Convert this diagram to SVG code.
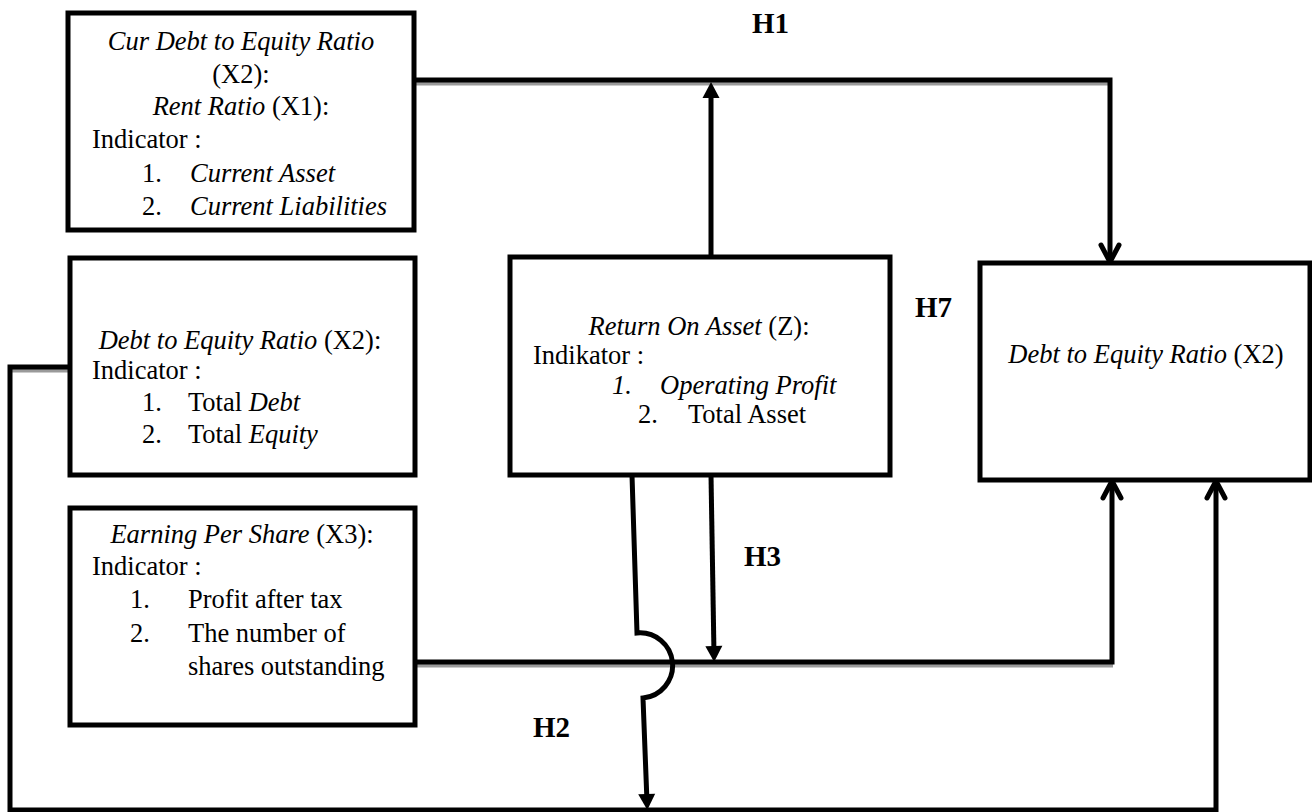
<svg xmlns="http://www.w3.org/2000/svg" width="1312" height="812" viewBox="0 0 1312 812">
<style>
.box{fill:#fff;stroke:#000;stroke-width:5}
.t{font-family:"Liberation Serif","Times New Roman",serif;font-size:26.5px;fill:#000}
.c{text-anchor:middle}
.i{font-style:italic}
.h{font-family:"Liberation Serif","Times New Roman",serif;font-size:29px;font-weight:bold;fill:#000}
.ln{fill:none;stroke:#000;stroke-width:5}
.sh{fill:none;stroke:#9a9a9a;stroke-width:5}
</style>
<defs>
<marker id="fa" markerUnits="userSpaceOnUse" viewBox="-18 -10 20 20" refX="-8" refY="0" markerWidth="20" markerHeight="20" orient="auto" overflow="visible">
<path d="M-16,-8.5 L0,0 L-16,8.5 Z" fill="#000"/>
</marker>
<marker id="ch" markerUnits="userSpaceOnUse" viewBox="-24 -14 28 28" refX="0" refY="0" markerWidth="28" markerHeight="28" orient="auto" overflow="visible">
<path d="M-17,-9 L0,0 L-17,9" fill="none" stroke="#000" stroke-width="5" stroke-linejoin="round" stroke-linecap="round"/>
</marker>
</defs>
<rect width="1312" height="812" fill="#fff"/>
<g id="shadows" transform="translate(1,3)">
<path class="sh" d="M415,80 H1110"/>
<path class="sh" d="M70,367 H10"/>
<path class="sh" d="M415,662 H1112"/>
</g>
<g id="connectors">
<path class="ln" d="M415,80 H1110 V262" marker-end="url(#ch)"/>
<path class="ln" d="M711,257 V90" marker-end="url(#fa)"/>
<path class="ln" d="M70,367 H10 V810 H1216 V481" marker-end="url(#ch)"/>
<path class="ln" d="M415,662 H1112 V481" marker-end="url(#ch)"/>
<path class="ln" d="M711,475 L714,654" marker-end="url(#fa)"/>
<path class="ln" d="M632,475 L637,633 A32.5,32.5 0 0 1 643,698 L647,802" marker-end="url(#fa)"/>
</g>
<g id="n1">
<rect class="box" x="68" y="13" width="346" height="217"/>
<text class="t c i" x="241" y="50">Cur Debt to Equity Ratio</text>
<text class="t c" x="241" y="83">(X2):</text>
<text class="t c" x="241" y="115"><tspan class="i">Rent Ratio</tspan> (X1):</text>
<text class="t" x="92" y="148">Indicator :</text>
<text class="t" x="142" y="182">1.</text>
<text class="t i" x="190" y="182">Current Asset</text>
<text class="t" x="142" y="215">2.</text>
<text class="t i" x="190" y="215">Current Liabilities</text>
</g>
<g id="n2">
<rect class="box" x="70" y="258" width="345" height="217"/>
<text class="t c" x="240" y="349"><tspan class="i">Debt to Equity Ratio</tspan> (X2):</text>
<text class="t" x="92" y="379">Indicator :</text>
<text class="t" x="142" y="411">1.</text>
<text class="t" x="188" y="411">Total <tspan class="i">Debt</tspan></text>
<text class="t" x="142" y="443">2.</text>
<text class="t" x="188" y="443">Total <tspan class="i">Equity</tspan></text>
</g>
<g id="n3">
<rect class="box" x="70" y="508" width="345" height="217"/>
<text class="t c" x="242" y="543"><tspan class="i">Earning Per Share</tspan> (X3):</text>
<text class="t" x="92" y="575">Indicator :</text>
<text class="t" x="130" y="608">1.</text>
<text class="t" x="188" y="608">Profit after tax</text>
<text class="t" x="130" y="642">2.</text>
<text class="t" x="188" y="642">The number of</text>
<text class="t" x="188" y="675">shares outstanding</text>
</g>
<g id="n4">
<rect class="box" x="510" y="257" width="380" height="218"/>
<text class="t c" x="699" y="335"><tspan class="i">Return On Asset</tspan> (Z):</text>
<text class="t" x="533" y="364">Indikator :</text>
<text class="t i" x="612" y="394">1.</text>
<text class="t i" x="660" y="394">Operating Profit</text>
<text class="t" x="638" y="423">2.</text>
<text class="t" x="688" y="423">Total Asset</text>
</g>
<g id="n5">
<rect class="box" x="980" y="263" width="330" height="217"/>
<text class="t c" x="1146" y="363"><tspan class="i">Debt to Equity Ratio</tspan> (X2)</text>
</g>
<g id="labels">
<text class="h" x="752" y="33">H1</text>
<text class="h" x="915" y="317">H7</text>
<text class="h" x="744" y="566">H3</text>
<text class="h" x="533" y="737">H2</text>
</g>
</svg>
